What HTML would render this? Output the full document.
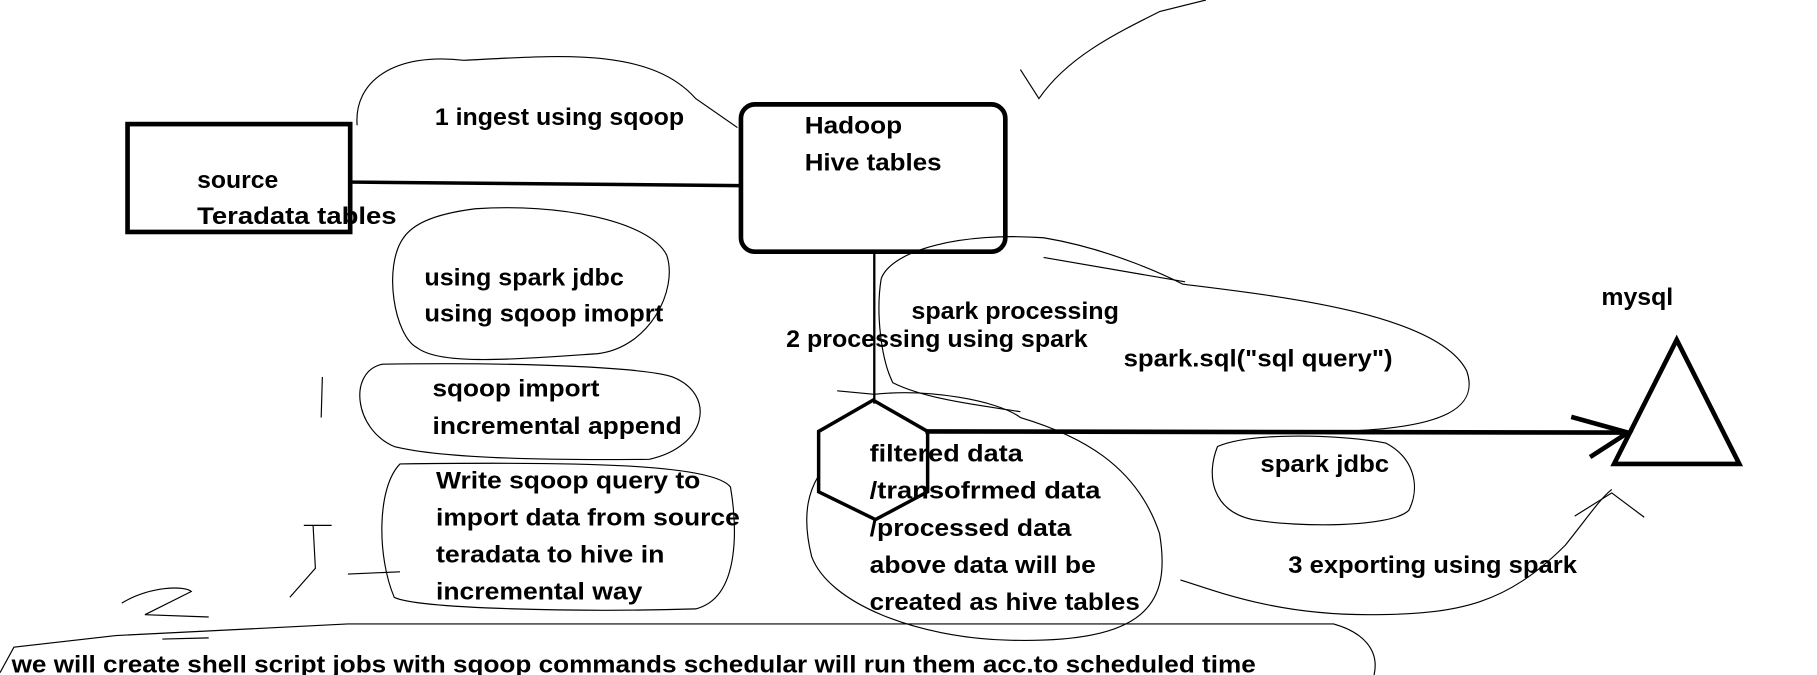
<!DOCTYPE html>
<html><head><meta charset="utf-8"><style>
html,body{margin:0;padding:0;background:#fff;overflow:hidden}
svg{display:block}
text{font-family:"Liberation Sans",Arial,sans-serif;font-weight:bold;font-size:21px;fill:#000}
</style></head><body>
<svg width="1817" height="675" viewBox="0 0 1567 582" preserveAspectRatio="none" xmlns="http://www.w3.org/2000/svg">
<g fill="none" stroke="#000" stroke-width="1">
<path d="M308,108 C305,70 340,45 400,52 C480,48 560,40 600,85 L636,110"/>
<path d="M880,60 L896,85 C920,50 960,30 1000,10 L1040,0"/>
<path d="M348,205 C330,230 340,290 360,300 C380,315 440,310 515,305 C560,300 585,250 575,220 C560,190 480,175 410,180 C370,185 355,195 348,205 Z"/>
<path d="M330,314 C300,320 305,370 340,385 C380,395 470,397 560,396 C610,385 618,340 580,325 C560,318 470,312 330,314 Z"/>
<path d="M345,400 C325,420 325,480 340,515 C360,525 500,528 600,525 C640,515 635,450 630,420 C615,400 500,398 345,400 Z"/>
<path d="M760,240 C770,215 830,200 900,205 C960,215 1010,240 1020,245 C1100,255 1240,270 1265,320 C1275,350 1250,370 1150,372"/>
<path d="M760,240 C755,270 760,310 770,330 C800,345 850,350 880,355"/>
<path d="M900,222 L1022,243"/>
<path d="M722,337 L754,340 C800,335 860,345 880,360 C930,375 980,400 1000,460 C1010,520 990,555 870,552 C790,550 715,520 700,480 C690,440 700,420 706,410"/>
<path d="M1050,385 C1040,410 1045,440 1080,448 C1120,455 1200,455 1215,440 C1225,420 1220,395 1195,382 C1160,375 1080,372 1050,385 Z"/>
<path d="M1018,500 C1050,510 1100,530 1180,530 C1260,530 1300,520 1350,470 C1370,445 1380,430 1390,422"/>
<path d="M1358,445 L1390,425 L1418,446"/>
<path d="M278,325 L277,360"/>
<path d="M262,453 L286,453 M270,453 L272,490 L250,515 M300,495 L345,493"/>
<path d="M105,520 C130,505 160,505 165,510 L125,530 L180,532 M140,551 L180,550"/>
<path d="M0,580 L12,558 L100,548 L300,538 L1150,538 C1175,545 1190,560 1185,582"/>
</g>
<g fill="none" stroke="#000" stroke-linecap="square">
<rect x="110" y="107" width="192" height="93" stroke-width="4"/>
<path d="M302,157 L636,160" stroke-width="3"/>
<rect x="639" y="90" width="228" height="127" rx="12" stroke-width="4"/>
<path d="M754,217 L754,347" stroke-width="2"/>
<path d="M753,345 L800,372 L800,424 L755,448 L706,424 L706,372 Z" stroke-width="3"/>
<path d="M800,372 L1400,373" stroke-width="4"/>
<path d="M1357,360 L1404,373 L1373,393" stroke-width="4"/>
<path d="M1446,293 L1392,400 L1500,400 Z" stroke-width="4"/>
</g>
<g>
<text x="375" y="108" textLength="215" lengthAdjust="spacingAndGlyphs">1 ingest using sqoop</text>
<text x="694" y="115" textLength="84" lengthAdjust="spacingAndGlyphs">Hadoop</text>
<text x="694" y="147" textLength="118" lengthAdjust="spacingAndGlyphs">Hive tables</text>
<text x="170" y="162" textLength="70" lengthAdjust="spacingAndGlyphs">source</text>
<text x="170" y="193" textLength="172" lengthAdjust="spacingAndGlyphs">Teradata  tables</text>
<text x="366" y="246" textLength="172" lengthAdjust="spacingAndGlyphs">using spark jdbc</text>
<text x="366" y="277" textLength="206" lengthAdjust="spacingAndGlyphs">using sqoop imoprt</text>
<text x="786" y="275" textLength="179" lengthAdjust="spacingAndGlyphs">spark processing</text>
<text x="678" y="299" textLength="260" lengthAdjust="spacingAndGlyphs">2 processing using spark</text>
<text x="1381" y="263" textLength="62" lengthAdjust="spacingAndGlyphs">mysql</text>
<text x="969" y="316" textLength="232" lengthAdjust="spacingAndGlyphs">spark.sql("sql query")</text>
<text x="373" y="342" textLength="144" lengthAdjust="spacingAndGlyphs">sqoop import</text>
<text x="373" y="374" textLength="215" lengthAdjust="spacingAndGlyphs">incremental append</text>
<text x="376" y="421" textLength="228" lengthAdjust="spacingAndGlyphs">Write sqoop query to</text>
<text x="376" y="453" textLength="262" lengthAdjust="spacingAndGlyphs">import data from source</text>
<text x="376" y="485" textLength="197" lengthAdjust="spacingAndGlyphs">teradata to hive in</text>
<text x="376" y="517" textLength="178" lengthAdjust="spacingAndGlyphs">incremental way</text>
<text x="750" y="398" textLength="132" lengthAdjust="spacingAndGlyphs">filtered data</text>
<text x="750" y="430" textLength="199" lengthAdjust="spacingAndGlyphs">/transofrmed data</text>
<text x="750" y="462" textLength="174" lengthAdjust="spacingAndGlyphs">/processed data</text>
<text x="750" y="494" textLength="195" lengthAdjust="spacingAndGlyphs">above data will be</text>
<text x="750" y="526" textLength="233" lengthAdjust="spacingAndGlyphs">created as hive tables</text>
<text x="1087" y="407" textLength="111" lengthAdjust="spacingAndGlyphs">spark jdbc</text>
<text x="1111" y="494" textLength="249" lengthAdjust="spacingAndGlyphs">3 exporting using spark</text>
<text x="10" y="580" textLength="1073" lengthAdjust="spacingAndGlyphs">we will create shell script jobs with sqoop commands schedular will run them acc.to  scheduled time</text>
</g>
</svg>
</body></html>
